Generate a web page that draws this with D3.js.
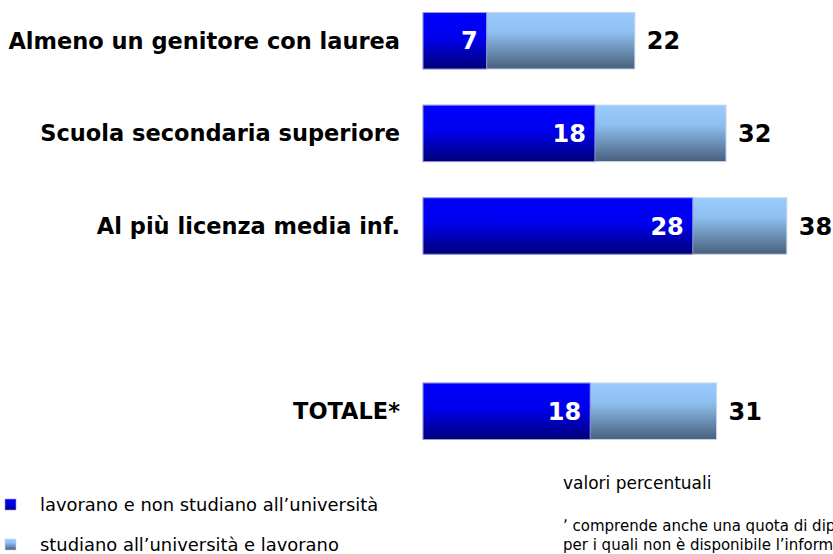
<!DOCTYPE html>
<html>
<head>
<meta charset="utf-8">
<script src="https://cdn.jsdelivr.net/npm/d3@7"></script>
<style>
  body { margin: 0; background: #fff; }
  svg { display: block; }
  text { font-family: "DejaVu Sans", sans-serif; }
</style>
</head>
<body>
<div id="chart"></div>
<script>
// categories (blank entry = empty slot before the total)
const categories = ["Almeno un genitore con laurea", "Scuola secondaria superiore", "Al più licenza media inf.", "", "TOTALE*"];
// lavorano e non studiano all'università
const workOnly = [6.7, 18.1, 28.4, null, 17.6];
// totale che lavora (incl. studiano e lavorano)
const workTotal = [22.3, 31.9, 38.3, null, 30.9];
const workOnlyLabels = ["7", "18", "28", "", "18"];
const workTotalLabels = ["22", "32", "38", "", "31"];
const legendLabels = ["lavorano e non studiano all\u2019università", "studiano all\u2019università e lavorano"];

const svgWidth = 833;
const svgHeight = 554;

const svg = d3.select("#chart")
  .append("svg")
  .attr("width", svgWidth)
  .attr("height", svgHeight);

const defs = svg.append("defs");

const darkGrad = defs.append("linearGradient")
  .attr("id", "darkGrad")
  .attr("x1", 0).attr("y1", 0).attr("x2", 0).attr("y2", 1);
darkGrad.append("stop").attr("offset", "0%").attr("stop-color", "#0000ff");
darkGrad.append("stop").attr("offset", "45%").attr("stop-color", "#0000ee");
darkGrad.append("stop").attr("offset", "100%").attr("stop-color", "#000078");

const lightGrad = defs.append("linearGradient")
  .attr("id", "lightGrad")
  .attr("x1", 0).attr("y1", 0).attr("x2", 0).attr("y2", 1);
lightGrad.append("stop").attr("offset", "0%").attr("stop-color", "#99ccff");
lightGrad.append("stop").attr("offset", "35%").attr("stop-color", "#8fbfef");
lightGrad.append("stop").attr("offset", "100%").attr("stop-color", "#485f7c");

// scales
const x = d3.scaleLinear()
  .domain([0, 40])
  .range([423, 803]);

const y = d3.scaleBand()
  .domain(d3.range(categories.length))
  .range([-6, 458])
  .paddingInner(0.39)
  .paddingOuter(0.2);

const rows = d3.range(categories.length).filter(i => workOnly[i] !== null);

const rowGroup = svg.append("g")
  .selectAll("g")
  .data(rows)
  .enter()
  .append("g");

// light segment (full total)
rowGroup.append("rect")
  .attr("x", i => x(0))
  .attr("y", i => y(i))
  .attr("width", i => x(workTotal[i]) - x(0))
  .attr("height", y.bandwidth())
  .attr("fill", "url(#lightGrad)")
  .attr("stroke", "#c8d6ea")
  .attr("stroke-width", 1);

// dark segment
rowGroup.append("rect")
  .attr("x", i => x(0))
  .attr("y", i => y(i))
  .attr("width", i => x(workOnly[i]) - x(0))
  .attr("height", y.bandwidth())
  .attr("fill", "url(#darkGrad)")
  .attr("stroke", "#9a9ae0")
  .attr("stroke-width", 1);

// inside labels
rowGroup.append("text")
  .attr("x", i => x(workOnly[i]) - 9)
  .attr("y", i => y(i) + y.bandwidth() / 2)
  .attr("dy", "0.36em")
  .attr("text-anchor", "end")
  .attr("fill", "#fff")
  .attr("font-weight", "bold")
  .attr("font-size", 24)
  .text(i => workOnlyLabels[i]);

// outside labels
rowGroup.append("text")
  .attr("x", i => x(workTotal[i]) + 12)
  .attr("y", i => y(i) + y.bandwidth() / 2)
  .attr("dy", "0.36em")
  .attr("fill", "#000")
  .attr("font-weight", "bold")
  .attr("font-size", 24)
  .text(i => workTotalLabels[i]);

// category labels
rowGroup.append("text")
  .attr("x", 400)
  .attr("y", i => y(i) + y.bandwidth() / 2)
  .attr("dy", "0.36em")
  .attr("text-anchor", "end")
  .attr("fill", "#000")
  .attr("font-weight", "bold")
  .attr("font-size", 22.5)
  .text(i => categories[i]);

// legend
const legend = svg.append("g")
  .selectAll("g")
  .data(legendLabels)
  .enter()
  .append("g")
  .attr("transform", (d, i) => `translate(5, ${499 + i * 40})`);

legend.append("rect")
  .attr("width", 11)
  .attr("height", 11)
  .attr("fill", (d, i) => i === 0 ? "url(#darkGrad)" : "url(#lightGrad)")
  .attr("stroke", (d, i) => i === 0 ? "#9a9ae0" : "#c8d6ea")
  .attr("stroke-width", 0.6);

legend.append("text")
  .attr("x", 35)
  .attr("y", 12)
  .attr("font-size", 17.9)
  .attr("fill", "#000")
  .text(d => d);

// notes
svg.append("text")
  .attr("x", 563)
  .attr("y", 489)
  .attr("font-size", 17)
  .attr("fill", "#000")
  .text("valori percentuali");

svg.append("text")
  .attr("x", 563)
  .attr("y", 531)
  .attr("font-size", 15)
  .attr("fill", "#000")
  .text("\u02BC comprende anche una quota di diplomati");

svg.append("text")
  .attr("x", 563)
  .attr("y", 550)
  .attr("font-size", 15)
  .attr("fill", "#000")
  .text("per i quali non è disponibile l\u2019informazione sul titolo dei genitori");
</script>
</body>
</html>
